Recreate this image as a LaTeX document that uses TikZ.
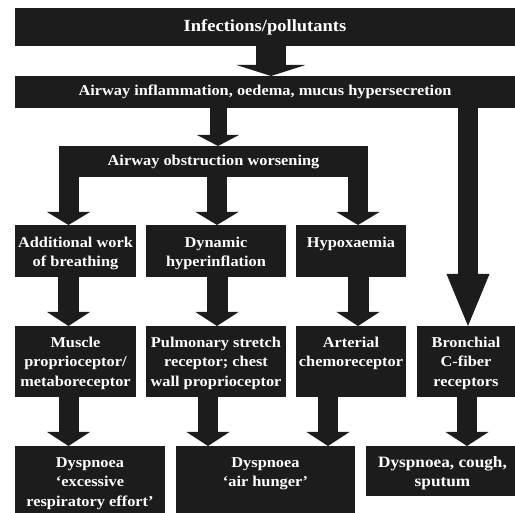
\documentclass[tikz,border=0pt]{standalone}
\usepackage{fontspec}
\setmainfont{Liberation Serif}[FakeStretch=1.09]
\usetikzlibrary{arrows.meta}
\definecolor{dk}{HTML}{1C1C1C}
\begin{document}
\begin{tikzpicture}[x=1pt,y=-1pt,
  box/.style={fill=dk, inner sep=0pt, outer sep=0pt, anchor=north west,
    text=white, align=center, font=\bfseries\fontsize{15}{19.5}\selectfont},
  txt/.style={text=white, font=\bfseries\fontsize{15}{19.5}\selectfont,
    align=center, inner sep=0pt, anchor=north},
  arr/.style n args={3}{draw=dk, line width=#1,
    -{Triangle[width=#2,length=#3,line width=0pt,fill=dk]}}
]
\useasboundingbox (0,0) rectangle (515,513);

% boxes with centred text
\node[box, minimum width=500pt, minimum height=38pt,
      font=\bfseries\fontsize{17}{20}\selectfont] (inf) at (15,8) {Infections/pollutants};
\node[box, minimum width=500pt, minimum height=32pt] (infl) at (15,76)
  {Airway inflammation, oedema, mucus hypersecretion};
\node[box, minimum width=309pt, minimum height=31pt] (obs) at (59,146)
  {Airway obstruction worsening};

% row 1
\node[box, minimum width=121pt, minimum height=52pt] (r1a) at (15,225) {};
\node[box, minimum width=140pt, minimum height=52pt] (r1b) at (146,225) {};
\node[box, minimum width=110pt, minimum height=52pt] (r1c) at (296,225) {};
% row 2
\node[box, minimum width=121pt, minimum height=71pt] (r2a) at (15,326) {};
\node[box, minimum width=140pt, minimum height=71pt] (r2b) at (146,326) {};
\node[box, minimum width=110pt, minimum height=71pt] (r2c) at (296,326) {};
\node[box, minimum width=98pt, minimum height=71pt] (r2d) at (417,326) {};
% row 3
\node[box, minimum width=150pt, minimum height=67pt] (r3a) at (15,446) {};
\node[box, minimum width=179pt, minimum height=67pt] (r3b) at (176,446) {};
\node[box, minimum width=149pt, minimum height=50pt] (r3c) at (366,446) {};

% top-aligned texts
\node[txt] (t1a) at ([yshift=-8.5pt]r1a.north) {\strut Additional work\\of breathing};
\node[txt] (t1b) at ([yshift=-8.5pt]r1b.north) {\strut Dynamic\\hyperinflation};
\node[txt] (t1c) at ([yshift=-8.5pt]r1c.north) {\strut Hypoxaemia};
\node[txt] (t2a) at ([yshift=-7.5pt]r2a.north) {\strut Muscle\\proprioceptor/\\metaboreceptor};
\node[txt] (t2b) at ([yshift=-7.5pt]r2b.north) {\strut Pulmonary stretch\\receptor; chest\\wall proprioceptor};
\node[txt] (t2c) at ([yshift=-7.5pt]r2c.north) {\strut Arterial\\chemoreceptor};
\node[txt] (t2d) at ([yshift=-7.5pt]r2d.north) {\strut Bronchial\\C-fiber\\receptors};
\node[txt] (t3a) at ([yshift=-7.5pt]r3a.north) {\strut Dyspnoea\\‘excessive\\respiratory effort’};
\node[txt] (t3b) at ([yshift=-7.5pt]r3b.north) {\strut Dyspnoea\\‘air hunger’};
\node[txt, font=\bfseries\fontsize{15.8}{19.5}\selectfont] (t3c) at ([xshift=2pt,yshift=-7.5pt]r3c.north) {\strut Dyspnoea, cough,\\sputum};

% arrow x positions
\coordinate (xa) at (271,0);
\coordinate (xb) at (218,0);
\coordinate (xl) at (68.5,0);
\coordinate (xm) at (217,0);
\coordinate (xr) at (358,0);
\coordinate (xf) at (468,0);
\coordinate (xm2) at (208,0);
\coordinate (xr2) at (328,0);
\coordinate (xf2) at (467,0);

% arrows
\draw[arr={30pt}{69pt}{11pt}] (inf.south -| xa) -- (infl.north -| xa);
\draw[arr={17pt}{42pt}{11pt}] (infl.south -| xb) -- (obs.north -| xb);
\draw[arr={20pt}{43pt}{52pt}] (infl.south -| xf) -- (r2d.north -| xf);

\draw[arr={20pt}{43pt}{13pt}] (obs.south -| xl) -- (r1a.north -| xl);
\draw[arr={20pt}{43pt}{13pt}] (obs.south -| xm) -- (r1b.north -| xm);
\draw[arr={20pt}{43pt}{13pt}] (obs.south -| xr) -- (r1c.north -| xr);

\draw[arr={21pt}{43pt}{14pt}] (r1a.south -| xl) -- (r2a.north -| xl);
\draw[arr={21pt}{43pt}{14pt}] (r1b.south -| xm) -- (r2b.north -| xm);
\draw[arr={21pt}{43pt}{14pt}] (r1c.south -| xr) -- (r2c.north -| xr);

\draw[arr={20pt}{43pt}{14pt}] (r2a.south -| xl) -- (r3a.north -| xl);
\draw[arr={20pt}{43pt}{14pt}] (r2b.south -| xm2) -- (r3b.north -| xm2);
\draw[arr={20pt}{43pt}{14pt}] (r2c.south -| xr2) -- (r3b.north -| xr2);
\draw[arr={20pt}{43pt}{14pt}] (r2d.south -| xf2) -- (r3c.north -| xf2);
\end{tikzpicture}
\end{document}
